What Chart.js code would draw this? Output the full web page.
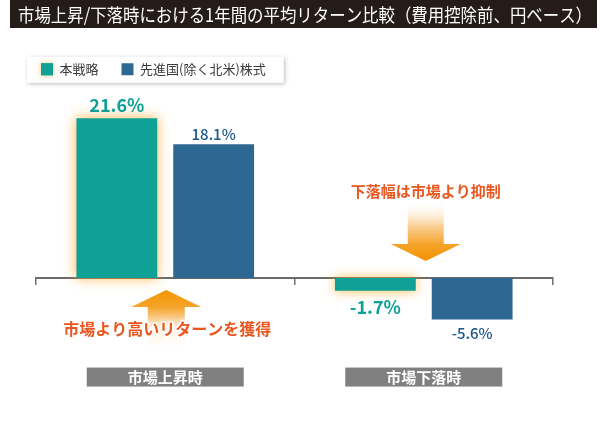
<!DOCTYPE html>
<html><head><meta charset="utf-8">
<script src="https://cdn.jsdelivr.net/npm/chart.js@4.4.0/dist/chart.umd.min.js"></script>
<style>html,body{margin:0;padding:0;background:#fff;} #wrap{width:600px;height:440px;position:relative;}</style>
</head><body><div id="wrap"><canvas id="c" width="600" height="440"></canvas></div>
<script>
const titleText = '市場上昇/下落時における1年間の平均リターン比較（費用控除前、円ベース）';
const categories = ['市場上昇時', '市場下落時'];
const seriesNames = ['本戦略', '先進国(除く北米)株式'];
const strategyValues = [21.6, -1.7];
const benchmarkValues = [18.1, -5.6];
const annotationUp = '市場より高いリターンを獲得';
const annotationDown = '下落幅は市場より抑制';

const TEAL = '#0fa195', BLUE = '#2d6893', ORANGE_TEXT = '#e9561f', ORANGE = '#f39800';
const JP = '"Noto Sans CJK JP", "Noto Sans", sans-serif';

const decorPlugin = {
  id: 'decor',
  beforeDraw(chart) {
    const ctx = chart.ctx;
    ctx.save();
    ctx.fillStyle = '#251b18';
    ctx.fillRect(10, 0, 587, 28);
    const hb = chart.legend.legendHitBoxes;
    if (hb && hb.length) {
      const last = hb[hb.length - 1];
      const x0 = hb[0].left - 14, x1 = last.left + last.width + 18;
      const y0 = hb[0].top - 6, h = 26;
      ctx.shadowColor = 'rgba(0,0,0,0.25)';
      ctx.shadowBlur = 4;
      ctx.shadowOffsetX = 1;
      ctx.shadowOffsetY = 1;
      ctx.fillStyle = '#fff';
      ctx.fillRect(x0, y0, x1 - x0, h);
      ctx.shadowColor = 'rgba(250,170,40,0.7)';
      ctx.shadowBlur = 5;
      ctx.shadowOffsetX = 0;
      ctx.shadowOffsetY = 0;
      ctx.fillStyle = TEAL;
      ctx.fillRect(hb[0].left, hb[0].top + 0.5, 12, 12);
    }
    ctx.restore();
  },
  beforeDatasetDraw(chart, args) {
    if (args.index === 0) {
      const ctx = chart.ctx;
      ctx.save();
      ctx.shadowColor = 'rgba(250,165,30,0.8)';
      ctx.shadowBlur = 12;
    }
  },
  afterDatasetDraw(chart, args) {
    if (args.index === 0) chart.ctx.restore();
  },
  afterDatasetsDraw(chart) {
    const ctx = chart.ctx;
    const xs = chart.scales.x, ys = chart.scales.y;
    const y0 = ys.getPixelForValue(0);
    ctx.save();
    const cUp = xs.getPixelForValue(0) + 1;
    const cDn = xs.getPixelForValue(1) + 2;
    let g = ctx.createLinearGradient(0, y0 + 12, 0, y0 + 72);
    g.addColorStop(0, '#f39500');
    g.addColorStop(0.28, '#f5a42a');
    g.addColorStop(0.5, 'rgba(248,190,110,0.75)');
    g.addColorStop(1, 'rgba(255,255,255,0)');
    ctx.fillStyle = g;
    ctx.beginPath();
    ctx.moveTo(cUp, y0 + 12);
    ctx.lineTo(cUp + 35, y0 + 29);
    ctx.lineTo(cUp + 18.5, y0 + 29);
    ctx.lineTo(cUp + 18.5, y0 + 72);
    ctx.lineTo(cUp - 18.5, y0 + 72);
    ctx.lineTo(cUp - 18.5, y0 + 29);
    ctx.lineTo(cUp - 35, y0 + 29);
    ctx.closePath();
    ctx.fill();
    g = ctx.createLinearGradient(0, y0 - 78, 0, y0 - 17);
    g.addColorStop(0, 'rgba(255,255,255,0)');
    g.addColorStop(0.45, 'rgba(248,190,110,0.8)');
    g.addColorStop(0.72, '#f5a42a');
    g.addColorStop(1, '#f39200');
    ctx.fillStyle = g;
    ctx.beginPath();
    ctx.moveTo(cDn, y0 - 17);
    ctx.lineTo(cDn + 35, y0 - 34);
    ctx.lineTo(cDn + 18, y0 - 34);
    ctx.lineTo(cDn + 18, y0 - 78);
    ctx.lineTo(cDn - 18, y0 - 78);
    ctx.lineTo(cDn - 18, y0 - 34);
    ctx.lineTo(cDn - 35, y0 - 34);
    ctx.closePath();
    ctx.fill();

    const halo = (txt, x, y, size) => {
      ctx.font = 'bold ' + size + 'px ' + JP;
      ctx.textAlign = 'center';
      ctx.textBaseline = 'middle';
      ctx.save();
      ctx.shadowColor = 'rgba(255,255,255,1)';
      ctx.shadowBlur = 6;
      ctx.strokeStyle = 'rgba(255,255,255,0.9)';
      ctx.lineWidth = 3;
      ctx.lineJoin = 'round';
      ctx.strokeText(txt, x, y);
      ctx.restore();
      ctx.fillStyle = ORANGE_TEXT;
      ctx.fillText(txt, x, y);
    };
    halo(annotationDown, cDn, y0 - 87, 15);
    halo(annotationUp, cUp + 1, y0 + 51, 16);

    chart.data.datasets.forEach((ds, di) => {
      const meta = chart.getDatasetMeta(di);
      meta.data.forEach((bar, i) => {
        const v = ds.data[i];
        const txt = v.toFixed(1) + '%';
        if (di === 0) {
          ctx.font = '600 18px ' + JP;
          ctx.fillStyle = TEAL;
        } else {
          ctx.font = '500 15px ' + JP;
          ctx.fillStyle = '#1f568a';
        }
        ctx.textAlign = 'center';
        if (v >= 0) {
          ctx.textBaseline = 'bottom';
          ctx.fillText(txt, bar.x, bar.y - (di === 0 ? 4 : 2));
        } else {
          ctx.textBaseline = 'top';
          ctx.fillText(txt, bar.x, bar.y + (di === 0 ? 8 : 6));
        }
      });
    });
    ctx.restore();
  }
};

new Chart(document.getElementById('c'), {
  type: 'bar',
  data: {
    labels: categories,
    datasets: [
      { label: seriesNames[0], data: strategyValues, backgroundColor: TEAL, borderWidth: 0,
        categoryPercentage: 0.749, barPercentage: 0.835 },
      { label: seriesNames[1], data: benchmarkValues, backgroundColor: BLUE, borderWidth: 0,
        categoryPercentage: 0.749, barPercentage: 0.835 }
    ]
  },
  options: {
    responsive: false,
    animation: false,
    layout: { padding: { left: 18, right: 8, top: 0, bottom: 88 } },
    plugins: {
      title: {
        display: true, text: titleText, align: 'start', color: '#fff',
        font: { family: JP, size: 18.5, weight: 'normal' },
        padding: { top: 3.5, bottom: 14.1 }
      },
      legend: {
        display: true, position: 'top', align: 'start',
        labels: { boxWidth: 12, boxHeight: 12, padding: 23, color: '#3a3a3a',
          font: { family: JP, size: 13 } }
      },
      tooltip: { enabled: false }
    },
    scales: {
      x: {
        position: { y: 0 },
        z: 1,
        offset: true,
        grid: { display: true, drawOnChartArea: false, drawTicks: true, tickLength: 6,
          offset: true, color: '#707070', lineWidth: 1.5 },
        border: { display: true, color: '#6a6a6a', width: 2 },
        ticks: {
          color: '#fff', padding: 84.5,
          font: { family: JP, size: 15, weight: 'bold' },
          showLabelBackdrop: true, backdropColor: '#808080',
          backdropPadding: { top: 1, bottom: 0, left: 41, right: 41 }
        }
      },
      y: {
        min: -10, max: 26,
        afterFit(s) { s.width = 18; },
        grid: { display: false },
        border: { display: false },
        ticks: { display: false }
      },
      yRight: {
        type: 'linear', position: 'right', display: true,
        afterFit(s) { s.width = 39; },
        grid: { display: false },
        border: { display: false },
        ticks: { display: false }
      }
    }
  },
  plugins: [decorPlugin]
});
</script>
</body></html>
